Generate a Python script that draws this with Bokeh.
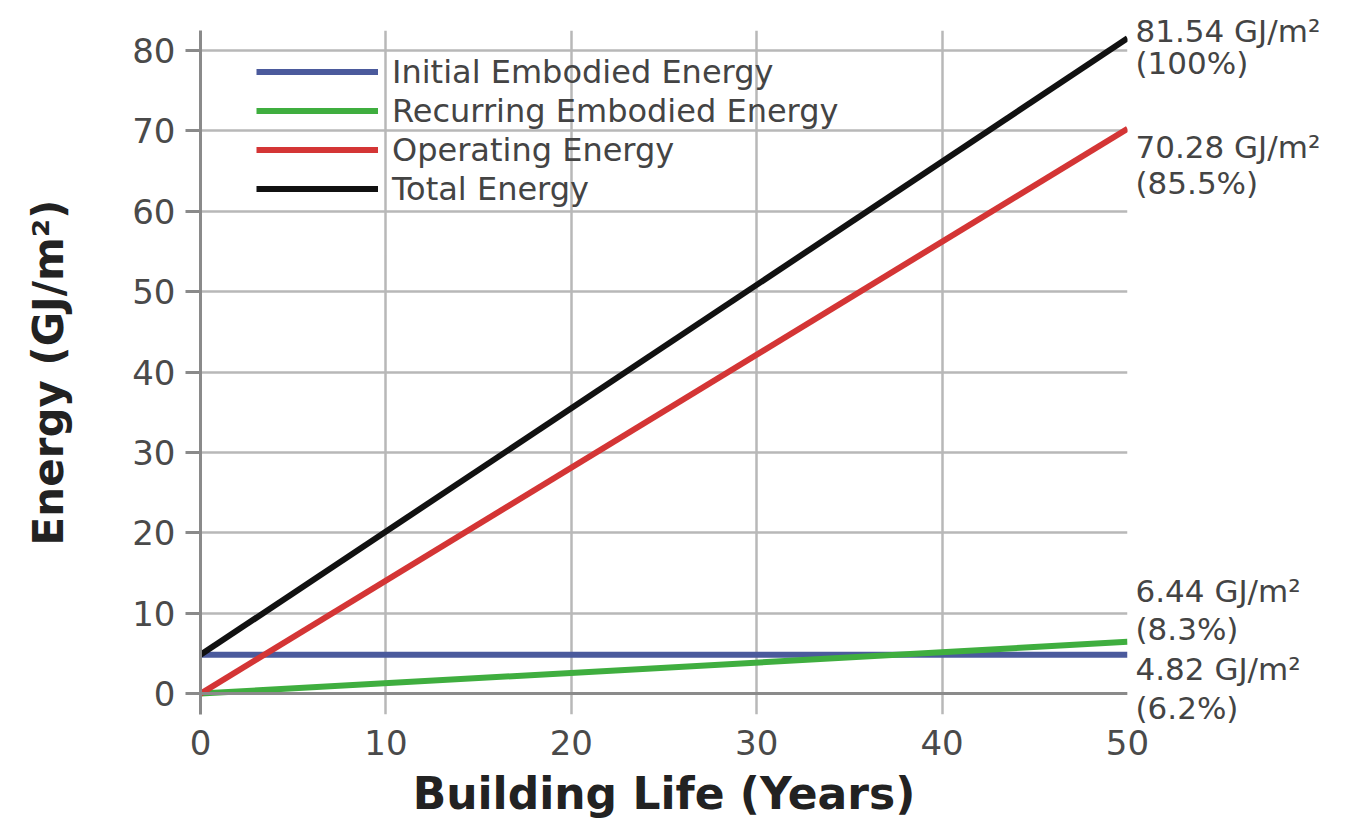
from bokeh.plotting import figure
from bokeh.models import Range1d, Legend, LegendItem, FixedTicker, LinearAxis, Span
from bokeh.embed import file_html
from bokeh.resources import INLINE

years = [0, 50]
initial = [4.82, 4.82]
recurring = [0.0, 6.44]
operating = [0.0, 70.28]
total = [4.82, 81.54]

series_names = ["Initial Embodied Energy", "Recurring Embodied Energy", "Operating Energy", "Total Energy"]
x_ticks = [0, 10, 20, 30, 40, 50]
y_ticks = [0, 10, 20, 30, 40, 50, 60, 70, 80]

end_values = [total[-1], operating[-1], recurring[-1], initial[-1]]
end_labels = ["81.54 GJ/m²", "70.28 GJ/m²", "6.44 GJ/m²", "4.82 GJ/m²"]
end_pcts = ["(100%)", "(85.5%)", "(8.3%)", "(6.2%)"]

FONT = "DejaVu Sans"

p = figure(width=1351, height=821, output_backend="svg", toolbar_location=None,
           x_range=Range1d(0, 50), y_range=Range1d(-2.6, 82.5),
           min_border_left=200, min_border_right=224, min_border_top=30, min_border_bottom=106)
p.outline_line_color = None
p.background_fill_color = "white"
p.border_fill_color = "white"

colors = ["#4b5a9c", "#3fae3f", "#d43535", "#111111"]
data = [initial, recurring, operating, total]

p.xgrid.grid_line_color = "#b8b8b8"
p.ygrid.grid_line_color = "#b8b8b8"
p.xgrid.grid_line_width = 2.5
p.ygrid.grid_line_width = 2.5
p.add_layout(Span(location=0, dimension="width", line_color="#8a8a8a", line_width=3))

renderers = []
for d, c in zip(data, colors):
    renderers.append(p.line(years, d, line_color=c, line_width=6))

# axes
p.xaxis.ticker = FixedTicker(ticks=x_ticks)
p.yaxis.ticker = FixedTicker(ticks=y_ticks)
for ax in (p.xaxis[0], p.yaxis[0]):
    ax.axis_line_color = "#8a8a8a"
    ax.axis_line_width = 3
    ax.major_tick_line_color = "#8a8a8a"
    ax.major_tick_line_width = 3
    ax.major_tick_in = 0
    ax.minor_tick_line_color = None
    ax.major_label_text_font = FONT
    ax.major_label_text_font_size = "34px"
    ax.major_label_text_color = "#4a4a4a"
    ax.axis_label_text_font = FONT
    ax.axis_label_text_font_style = "bold"
    ax.axis_label_text_color = "#222222"
p.xaxis.axis_line_color = None
p.xaxis.major_tick_line_color = None
p.xaxis.major_tick_out = 0
p.xaxis.major_label_standoff = 15
p.xaxis.axis_label = "Building Life (Years)"
p.xaxis.axis_label_text_font_size = "44px"
p.xaxis.axis_label_standoff = 10
p.yaxis.major_tick_out = 15
p.yaxis.major_label_standoff = 10
p.yaxis.axis_label = "Energy (GJ/m²)"
p.yaxis.axis_label_text_font_size = "42px"
p.yaxis.axis_label_standoff = 56

# end-of-line value labels on a right-hand axis
line_offsets = [(0.92, -3.06), (-2.25, -6.72), (6.37, 1.64), (-1.71, -6.56)]
ticks_r, overrides = [], {}
for v, lab, pct, (o1, o2) in zip(end_values, end_labels, end_pcts, line_offsets):
    t1, t2 = round(v + o1, 3), round(v + o2, 3)
    ticks_r += [t1, t2]
    overrides[t1] = lab
    overrides[t2] = pct
right_axis = LinearAxis(ticker=FixedTicker(ticks=ticks_r), major_label_overrides=overrides)
right_axis.axis_line_color = None
right_axis.major_tick_line_color = None
right_axis.minor_tick_line_color = None
right_axis.major_tick_out = 0
right_axis.major_tick_in = 0
right_axis.major_label_standoff = 8
right_axis.major_label_text_font = FONT
right_axis.major_label_text_font_size = "31px"
right_axis.major_label_text_color = "#444444"
p.add_layout(right_axis, "right")

legend = Legend(items=[LegendItem(label=n, renderers=[r]) for n, r in zip(series_names, renderers)],
                location=(56, 506), orientation="vertical")
legend.background_fill_alpha = 0
legend.border_line_color = None
legend.padding = 0
legend.margin = 0
legend.spacing = 0
legend.glyph_width = 122
legend.glyph_height = 39
legend.label_height = 39
legend.label_standoff = 14
legend.label_text_font = FONT
legend.label_text_font_size = "32px"
legend.label_text_color = "#444444"
legend.label_text_baseline = "middle"
p.add_layout(legend, "center")

open("out.html", "w").write(file_html(p, INLINE))
